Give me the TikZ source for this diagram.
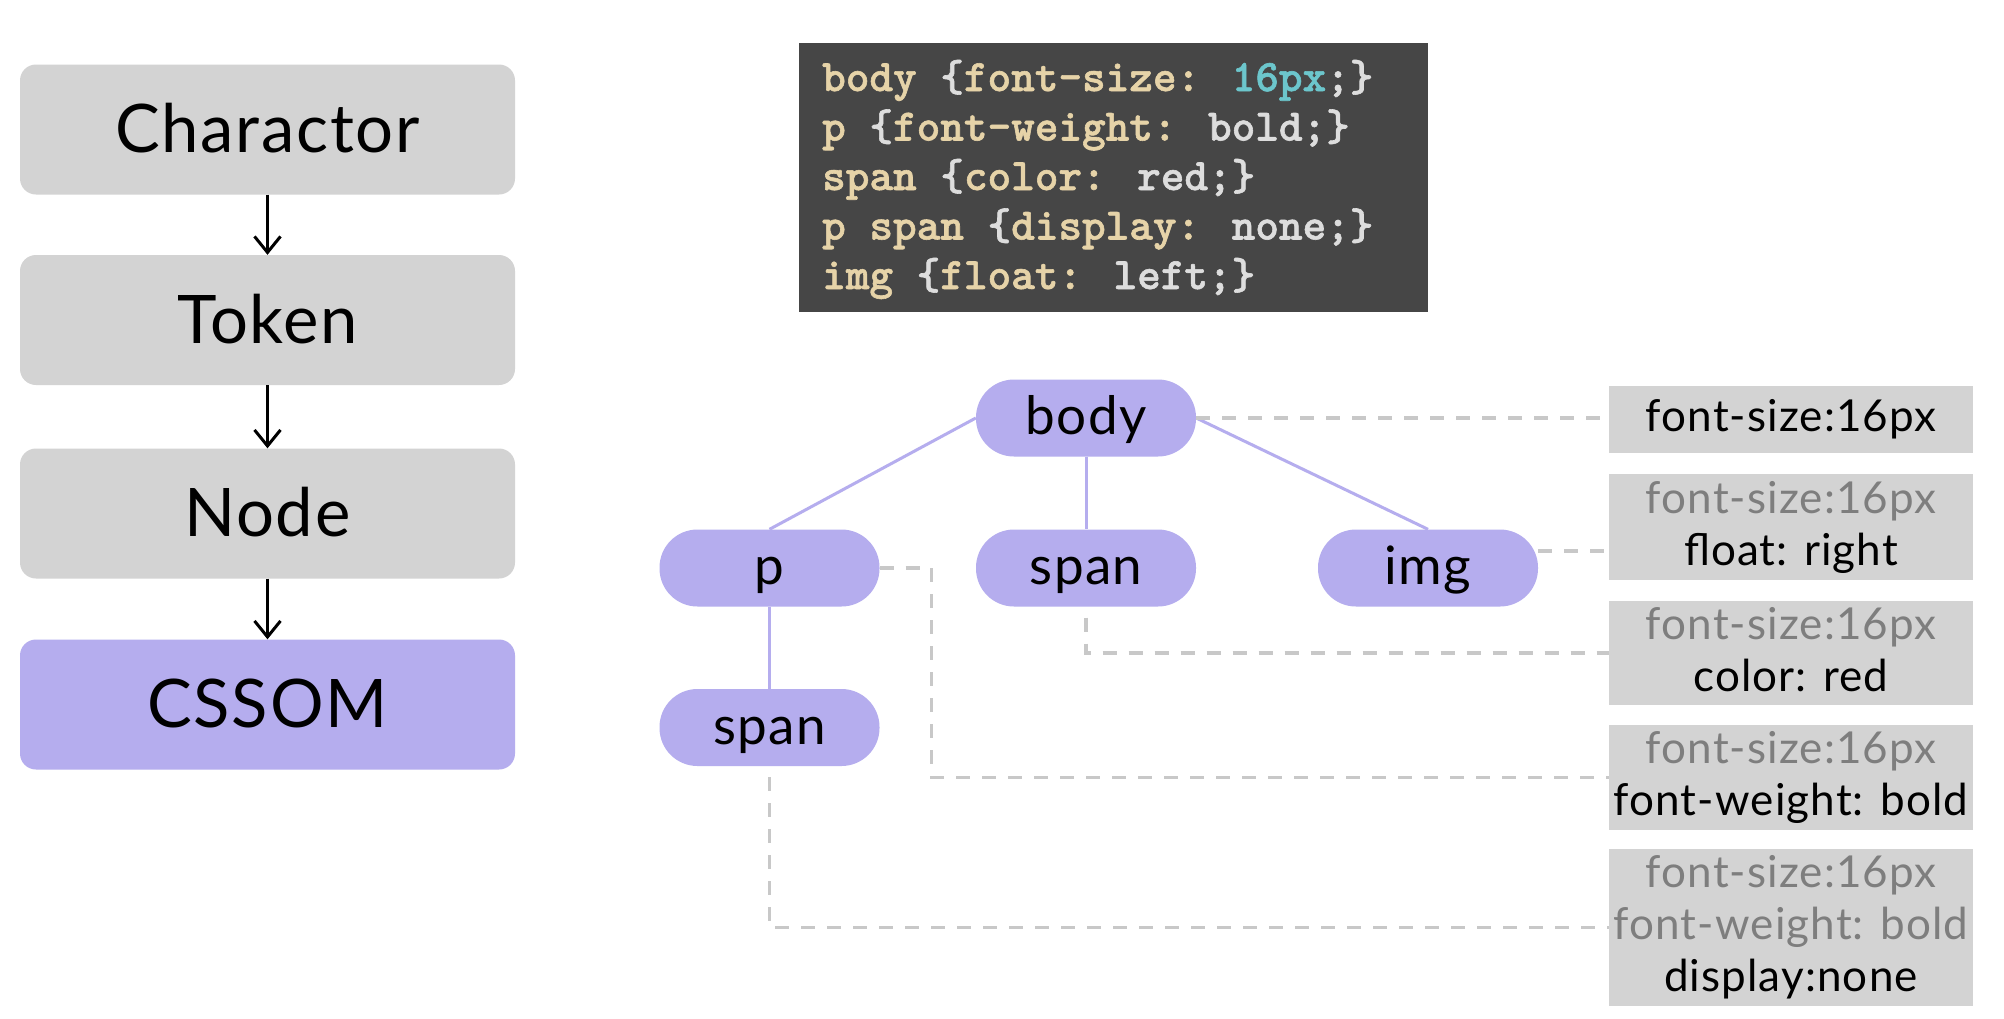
\documentclass[tikz,border=0pt]{standalone}
\usepackage{fontspec}
\setmainfont{Lato}
\newfontfamily\codefont[FakeBold=1.3]{lmmonolt10-bold.otf}
\newfontfamily\widefont[LetterSpace=2.5]{Lato}
\usetikzlibrary{arrows.meta}
\definecolor{boxgray}{HTML}{D3D3D3}
\definecolor{purp}{HTML}{B5ADEE}
\definecolor{dashgray}{HTML}{C8C8C8}
\definecolor{codebg}{HTML}{464646}
\definecolor{kw}{HTML}{E6D3A8}
\definecolor{val}{HTML}{DDDDDD}
\definecolor{num}{HTML}{6CC6CC}
\definecolor{subtxt}{HTML}{7E7E7E}
\begin{document}
\begin{tikzpicture}[x=1pt,y=-1pt,
  stage/.style={rectangle, rounded corners=16pt, fill=boxgray, minimum width=495pt, minimum height=130pt, inner sep=0pt, font=\widefont\fontsize{67}{70}\selectfont, text height=46pt, text depth=0pt},
  tnode/.style={rectangle, rounded corners=38pt, fill=purp, minimum width=220pt, minimum height=77pt, inner sep=0pt, font=\widefont\fontsize{53}{60}\selectfont, text height=37pt, text depth=4pt},
  propbox/.style={rectangle, fill=boxgray, minimum width=364pt, inner sep=0pt},
  proptxt/.style={inner sep=0pt, font=\widefont\fontsize{44}{52}\selectfont, text height=31pt, text depth=7pt},
  inh/.style={text=subtxt},
  arr/.style={draw=black, line width=3pt, -{Straight Barb[length=16pt,width=26pt]}},
  tline/.style={draw=purp, line width=3pt},
  dsh/.style={draw=dashgray, line width=3.5pt, dash pattern=on 14pt off 12pt},
  codeline/.style={anchor=base west, inner sep=0pt, font=\codefont\fontsize{45}{49.5}\selectfont}
]
\useasboundingbox (0,0) rectangle (2004,1018);
\fill[white] (0,0) rectangle (2004,1018);

% left pipeline
\node[stage] (s1) at (267.5,129.5) {Charactor};
\node[stage] (s2) at (267.5,320) {Token};
\node[stage] (s3) at (267.5,513.5) {Node};
\node[stage, fill=purp] (s4) at (267.5,704.5) {CSSOM};
\draw[arr] (s1.south) -- (s2.north);
\draw[arr] (s2.south) -- (s3.north);
\draw[arr] (s3.south) -- (s4.north);

% code box
\node[rectangle, fill=codebg, minimum width=629pt, minimum height=269pt, inner sep=0pt] (code) at (1113.5,177.5) {};
\node[codeline] (c1) at (822,91) {\textcolor{kw}{body} \textcolor{val}{\{}\textcolor{kw}{font-size:} \textcolor{num}{16px}\textcolor{val}{;\}}};
\node[codeline] (c2) at (822,140.5) {\textcolor{kw}{p} \textcolor{val}{\{}\textcolor{kw}{font-weight:} \textcolor{val}{bold;\}}};
\node[codeline] (c3) at (822,190) {\textcolor{kw}{span} \textcolor{val}{\{}\textcolor{kw}{color:} \textcolor{val}{red;\}}};
\node[codeline] (c4) at (822,239.5) {\textcolor{kw}{p span} \textcolor{val}{\{}\textcolor{kw}{display:} \textcolor{val}{none;\}}};
\node[codeline] (c5) at (822,289) {\textcolor{kw}{img} \textcolor{val}{\{}\textcolor{kw}{float:} \textcolor{val}{left;\}}};

% property boxes
\node[propbox, minimum height=67pt] (b1) at (1791,419.5) {};
\node[propbox, minimum height=106pt] (b2) at (1791,527) {};
\node[propbox, minimum height=104pt] (b3) at (1791,653) {};
\node[propbox, minimum height=105pt] (b4) at (1791,777.5) {};
\node[propbox, minimum height=157pt] (b5) at (1791,927.5) {};
\node[proptxt] (t1) at (1791,419.5) {font-size:16px};
\node[proptxt, inh] (t2a) at (1791,501) {font-size:16px};
\node[proptxt] (t2b) at (1791,553) {float: right};
\node[proptxt, inh] (t3a) at (1791,627) {font-size:16px};
\node[proptxt] (t3b) at (1791,679) {color: red};
\node[proptxt, inh] (t4a) at (1791,751.5) {font-size:16px};
\node[proptxt] (t4b) at (1791,803.5) {font-weight: bold};
\node[proptxt, inh] (t5a) at (1791,875.5) {font-size:16px};
\node[proptxt, inh] (t5b) at (1791,927.5) {font-weight: bold};
\node[proptxt] (t5c) at (1791,979.5) {display:none};

% tree
\node[tnode] (body) at (1086,418) {body};
\node[tnode] (p) at (769.5,568) {p};
\node[tnode] (spanm) at (1086,568) {span};
\node[tnode] (img) at (1428,568) {img};
\node[tnode] (spanl) at (769.5,727.5) {span};
\draw[tline] (body.west) -- (p.north);
\draw[tline] (body.south) -- (spanm.north);
\draw[tline] (body.east) -- (img.north);
\draw[tline] (p.south) -- (spanl.north);

% dashed links
\coordinate (imgR) at ([yshift=17pt]img.east);
\coordinate (spanmB) at ([yshift=-11pt]spanm.south);
\coordinate (spanlB) at ([yshift=-11pt]spanl.south);
\coordinate (pR) at ([xshift=52pt]p.east);
\draw[dsh] (body.east) -- (body.east -| b1.west);
\draw[dsh] (imgR) -- (imgR -| b2.west);
\draw[dsh] (spanmB) |- (b3.west);
\draw[dsh] (p.east) -- (pR) |- (b4.west);
\draw[dsh] (spanlB) |- (b5.west);
\end{tikzpicture}
\end{document}
